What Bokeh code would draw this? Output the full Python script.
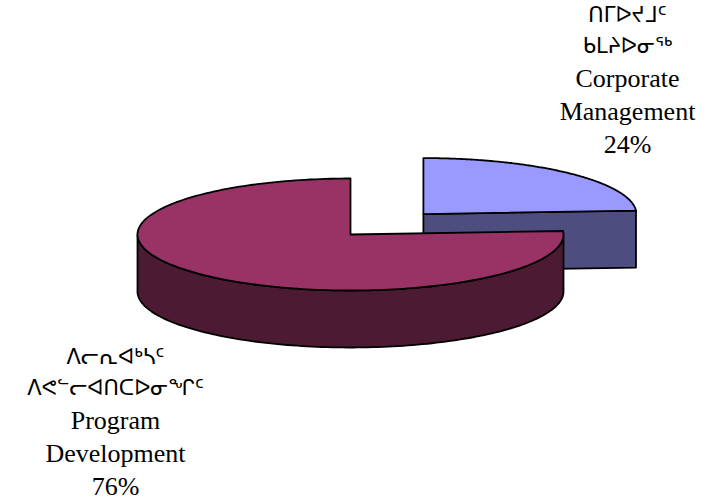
import math
from bokeh.plotting import figure
from bokeh.models import ColumnDataSource, Range1d
from bokeh.core.properties import value
from bokeh.embed import file_html
from bokeh.resources import INLINE

# ---- data ----
categories = ["Corporate Management", "Program Development"]
labels_iu_1 = ["ᑎᒥᐅᔪᒧᑦ", "ᐱᓕᕆᐊᒃᓴᑦ"]
labels_iu_2 = ["ᑲᒪᔨᐅᓂᖅ", "ᐱᕙᓪᓕᐊᑎᑕᐅᓂᖏᑦ"]
labels_en_1 = ["Corporate", "Program"]
labels_en_2 = ["Management", "Development"]
shares = [24, 76]
top_colors = ["#9999FF", "#993366"]
side_colors = ["#4D4D80", "#4D1A33"]
explode = [0.5, 0.0]

# ---- geometry ----
W, H = 717, 504
cx, cy = 350, 234
a, b = 213, 56
depth = 57
start = 90.0

p = figure(width=W, height=H, output_backend="svg", toolbar_location=None,
           x_range=Range1d(0, W), y_range=Range1d(H, 0), min_border=0)
p.axis.visible = False
p.grid.visible = False
p.outline_line_color = None
p.background_fill_color = "white"
p.border_fill_color = "white"

def pt(ox, oy, t, dz=0.0):
    r = math.radians(t)
    return ox + a * math.cos(r), oy - b * math.sin(r) + dz

total = float(sum(shares))
cum = 0.0
polys = []  # (xs, ys, color) in drawing order
for i, s in enumerate(shares):
    t_hi = start - cum / total * 360.0
    t_lo = start - (cum + s) / total * 360.0
    cum += s
    mid = math.radians((t_hi + t_lo) / 2.0)
    ox = cx + explode[i] * a * math.cos(mid)
    oy = cy - explode[i] * b * math.sin(mid)
    # radial cut faces that face the viewer
    if math.cos(math.radians(t_lo)) > 1e-6:
        x1, y1 = pt(ox, oy, t_lo)
        polys.append(([ox, x1, x1, ox], [oy, y1, y1 + depth, oy + depth], side_colors[i]))
    if math.cos(math.radians(t_hi)) < -1e-6:
        x1, y1 = pt(ox, oy, t_hi)
        polys.append(([ox, x1, x1, ox], [oy, y1, y1 + depth, oy + depth], side_colors[i]))
    # outer wall, visible part (front half of ellipse)
    n = 200
    ts = [t_lo + (t_hi - t_lo) * k / n for k in range(n + 1)]
    vis = [t for t in ts if math.sin(math.radians(t)) <= 1e-9]
    if len(vis) > 1:
        top = [pt(ox, oy, t) for t in vis]
        bot = [pt(ox, oy, t, depth) for t in reversed(vis)]
        pts = top + bot
        polys.append(([q[0] for q in pts], [q[1] for q in pts], side_colors[i]))
    # top face
    arc = [pt(ox, oy, t) for t in ts]
    polys.append(([ox] + [q[0] for q in arc], [oy] + [q[1] for q in arc], top_colors[i]))

src = ColumnDataSource(dict(xs=[q[0] for q in polys], ys=[q[1] for q in polys],
                            c=[q[2] for q in polys]))
p.patches("xs", "ys", source=src, fill_color="c", line_color="black", line_width=1.8,
          line_join="round")

# ---- labels ----
label_x = [627, 115]
label_y0 = [14, 356]
step = 33
en_x, en_y, en_t = [], [], []
iu_x, iu_y, iu_t = [], [], []
for i in range(len(categories)):
    y0 = label_y0[i]
    iu_x += [label_x[i], label_x[i]]
    iu_y += [y0, y0 + 31]
    iu_t += [labels_iu_1[i], labels_iu_2[i]]
    for k, ln in enumerate([labels_en_1[i], labels_en_2[i], "%d%%" % shares[i]]):
        en_x.append(label_x[i])
        en_y.append(y0 + 64 + k * step)
        en_t.append(ln)

p.text(en_x, en_y, text=en_t, text_font=value("Liberation Serif"),
       text_font_size="26px", text_align="center", text_baseline="middle", text_color="black")
p.text(iu_x, iu_y, text=iu_t, text_font=value("DejaVu Sans"),
       text_font_size="21px", text_align="center", text_baseline="middle", text_color="black")

open("out.html", "w").write(file_html(p, INLINE))
